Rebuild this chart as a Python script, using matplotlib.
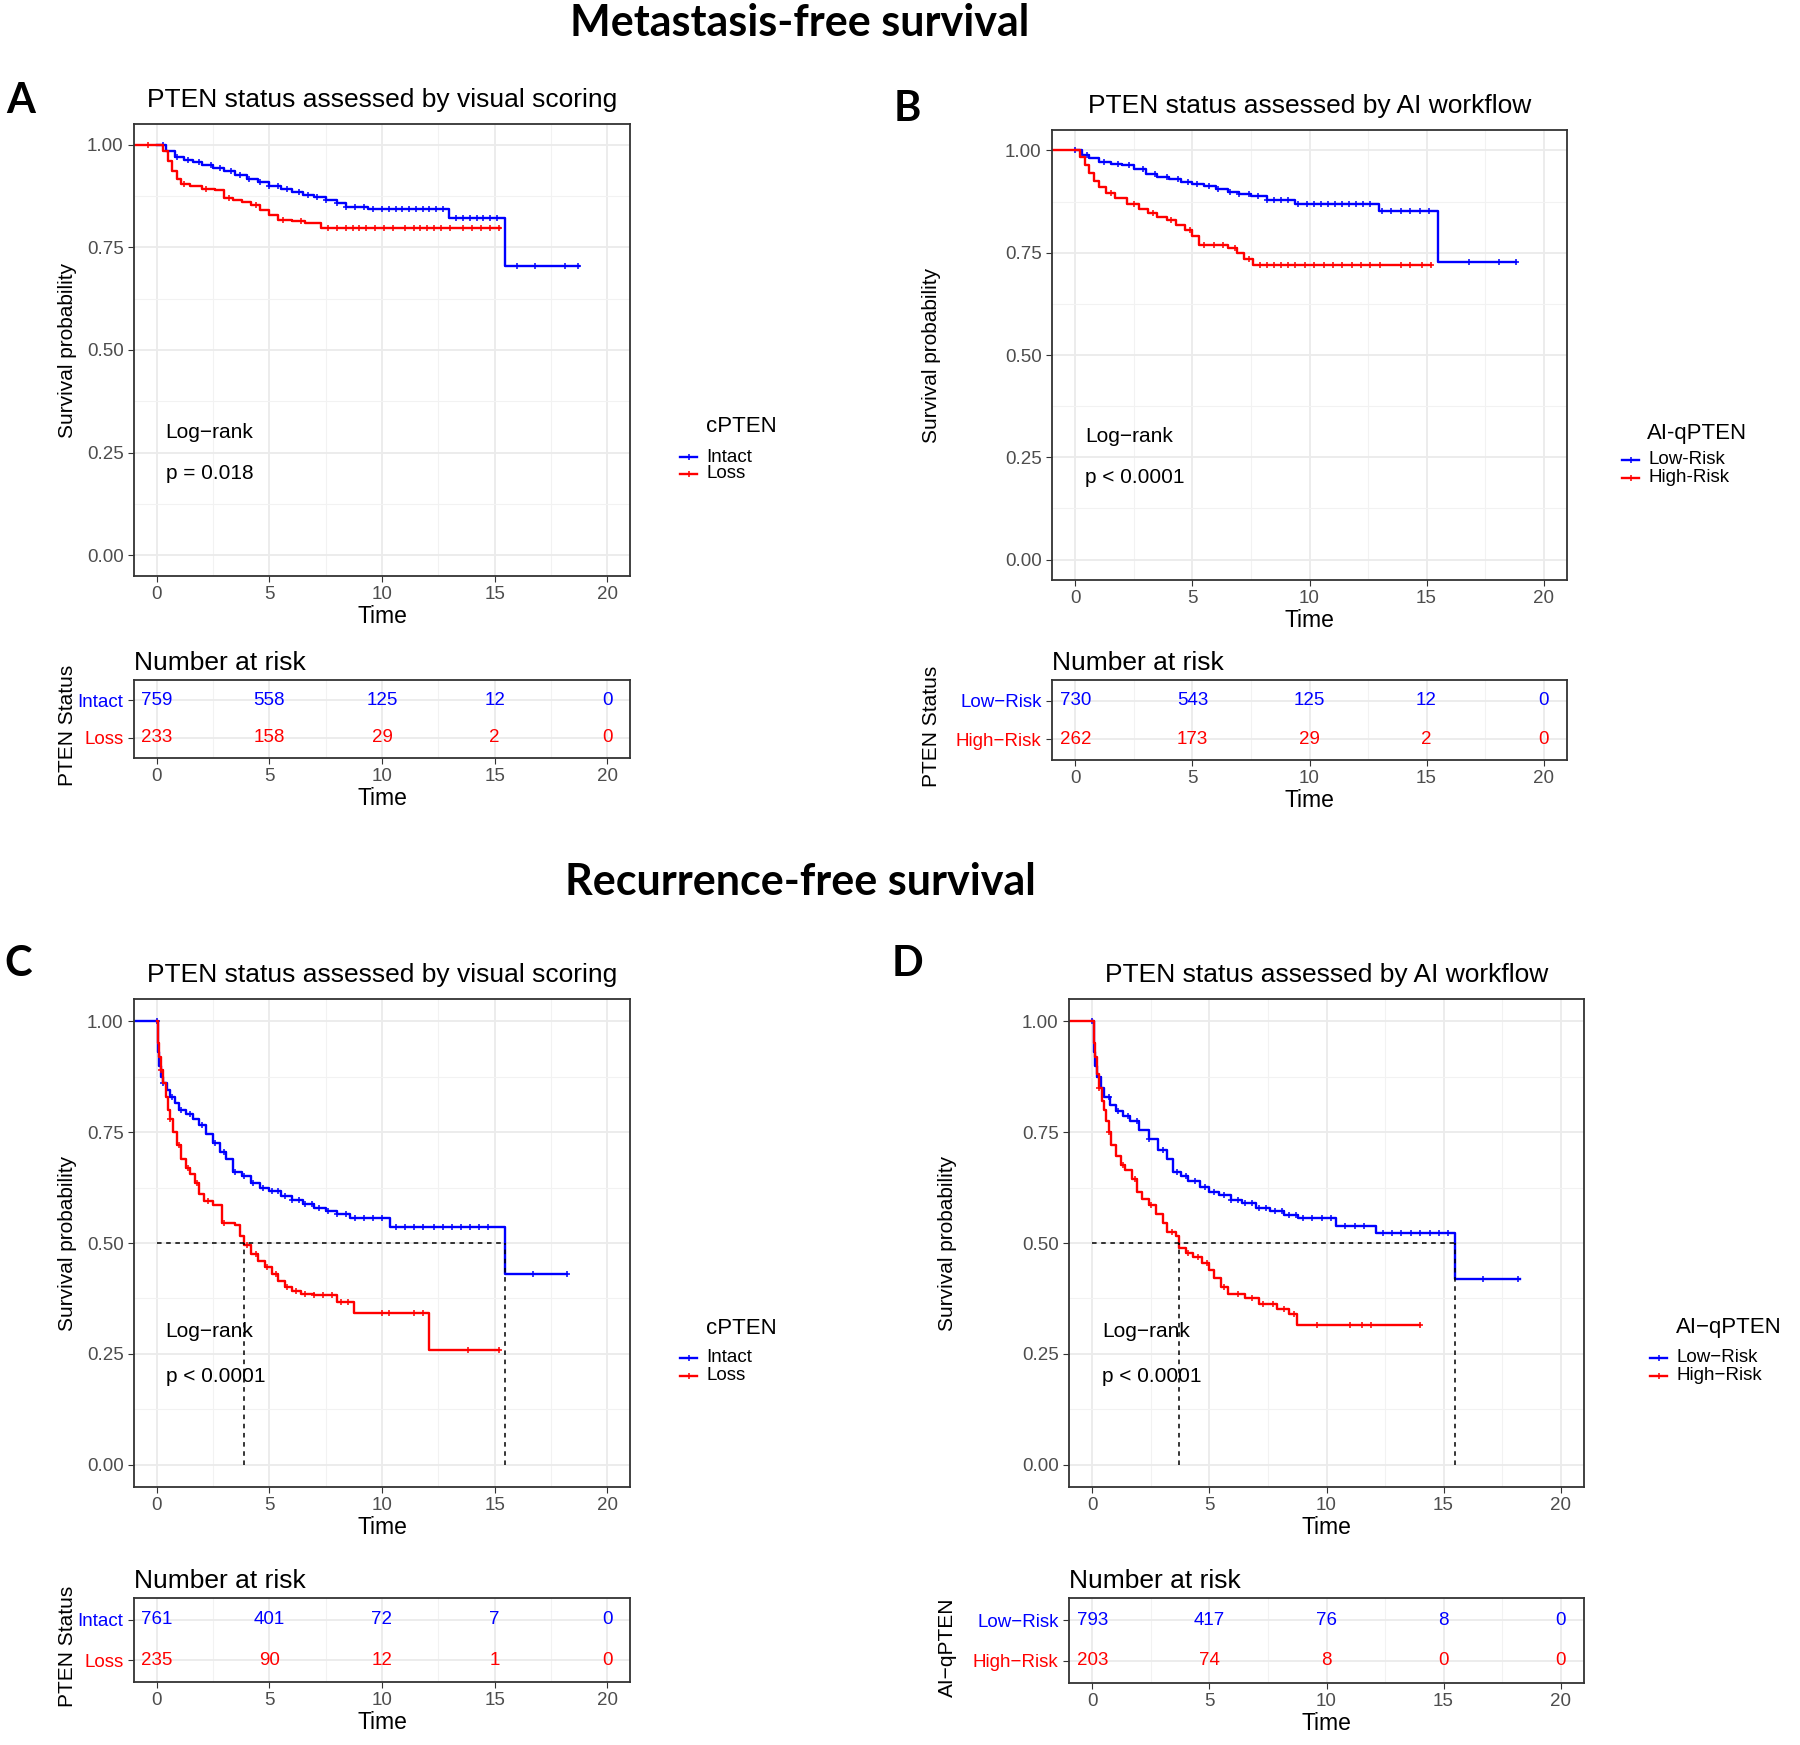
import numpy as np
import matplotlib
matplotlib.use("Agg")
from matplotlib import pyplot as plt
from matplotlib.lines import Line2D
from matplotlib.ticker import MultipleLocator

plt.rcParams['font.family'] = ['Liberation Sans', 'DejaVu Sans']

## Data
# A: metastasis-free, visual scoring
A_intact_t = [0, 0.4, 0.8, 1.2, 1.6, 2.0, 2.5, 3.0, 3.5, 4.0, 4.5, 5.0, 5.5, 6.0, 6.5, 7.0, 7.5, 8.0, 8.4, 9.4, 12.95, 15.45, 18.75]
A_intact_s = [1.0, 0.985, 0.970, 0.963, 0.957, 0.950, 0.942, 0.935, 0.925, 0.916, 0.908, 0.900, 0.893, 0.885, 0.878, 0.872, 0.866, 0.858, 0.848, 0.843, 0.822, 0.704, 0.704]
A_intact_cens = [0.3, 0.9, 1.4, 1.9, 2.4, 2.8, 3.3, 3.7, 4.1, 4.6, 5.0, 5.4, 5.8, 6.3, 6.7, 7.1, 7.5, 8.0, 8.4, 8.8, 9.2, 9.6, 10.0, 10.3, 10.6, 10.9, 11.2, 11.5, 11.8, 12.1, 12.4, 12.7, 13.3, 13.6, 13.9, 14.2, 14.5, 14.8, 15.1, 16.0, 16.8, 18.1, 18.7]
A_loss_t = [-1.0, 0.3, 0.5, 0.7, 0.9, 1.1, 1.5, 2.0, 2.6, 3.0, 3.4, 3.8, 4.2, 4.6, 5.0, 5.4, 6.0, 6.6, 7.3, 15.25]
A_loss_s = [1.0, 0.985, 0.960, 0.935, 0.915, 0.905, 0.900, 0.893, 0.889, 0.870, 0.865, 0.860, 0.852, 0.840, 0.828, 0.816, 0.814, 0.810, 0.796, 0.796]
A_loss_cens = [-0.4, 1.2, 2.2, 3.2, 4.4, 5.6, 6.4, 7.6, 8.0, 8.4, 8.7, 9.0, 9.3, 9.7, 10.1, 10.5, 11.0, 11.4, 11.7, 12.0, 12.3, 12.6, 13.0, 13.6, 14.0, 14.4, 14.8, 15.2]
A_risk_intact = [759, 558, 125, 12, 0]
A_risk_loss = [233, 158, 29, 2, 0]

# B: metastasis-free, AI workflow
B_low_t = [0, 0.3, 0.6, 1.0, 1.5, 2.0, 2.5, 3.0, 3.5, 4.0, 4.5, 5.0, 5.5, 6.0, 6.5, 7.0, 7.5, 8.2, 9.4, 12.95, 15.5, 18.8]
B_low_s = [1.0, 0.990, 0.982, 0.972, 0.968, 0.964, 0.955, 0.943, 0.936, 0.930, 0.924, 0.918, 0.912, 0.905, 0.899, 0.894, 0.889, 0.878, 0.870, 0.852, 0.728, 0.728]
B_low_cens = [0.0, 0.5, 1.2, 1.8, 2.3, 2.9, 3.4, 3.9, 4.4, 4.8, 5.2, 5.7, 6.1, 6.6, 7.0, 7.4, 7.8, 8.2, 8.5, 8.8, 9.1, 9.5, 9.9, 10.2, 10.5, 10.8, 11.1, 11.4, 11.7, 12.0, 12.3, 12.6, 13.1, 13.5, 13.9, 14.3, 14.7, 15.1, 16.8, 18.1, 18.8]
B_high_t = [-1.0, 0.2, 0.4, 0.6, 0.8, 1.0, 1.3, 1.7, 2.2, 2.7, 3.1, 3.5, 3.9, 4.3, 4.7, 5.0, 5.3, 6.5, 6.9, 7.2, 7.6, 15.2]
B_high_s = [1.0, 0.985, 0.965, 0.945, 0.925, 0.910, 0.897, 0.885, 0.870, 0.858, 0.846, 0.838, 0.830, 0.818, 0.806, 0.790, 0.770, 0.762, 0.750, 0.735, 0.720, 0.720]
B_high_cens = [1.5, 2.5, 3.3, 4.1, 4.9, 5.5, 5.9, 6.3, 6.8, 7.4, 7.9, 8.2, 8.5, 8.8, 9.1, 9.4, 9.8, 10.2, 10.6, 11.0, 11.4, 11.8, 12.2, 12.6, 13.0, 13.9, 14.3, 14.8, 15.2]
B_risk_low = [730, 543, 125, 12, 0]
B_risk_high = [262, 173, 29, 2, 0]

# C: recurrence-free, visual scoring
C_intact_t = [-1.0, 0.05, 0.1, 0.2, 0.3, 0.45, 0.6, 0.8, 1.0, 1.3, 1.6, 1.9, 2.2, 2.5, 2.8, 3.1, 3.4, 3.8, 4.2, 4.6, 5.0, 5.5, 6.0, 6.5, 7.0, 7.5, 8.0, 8.6, 10.35, 15.45, 18.2]
C_intact_s = [1.0, 0.93, 0.90, 0.875, 0.86, 0.845, 0.83, 0.815, 0.80, 0.79, 0.78, 0.765, 0.745, 0.725, 0.705, 0.69, 0.66, 0.65, 0.635, 0.625, 0.617, 0.607, 0.598, 0.588, 0.580, 0.572, 0.565, 0.556, 0.537, 0.431, 0.431]
C_intact_cens = [0.0, 0.3, 0.7, 1.1, 1.5, 2.0, 2.6, 3.0, 3.5, 3.9, 4.3, 4.7, 5.1, 5.4, 5.7, 6.0, 6.3, 6.6, 6.9, 7.2, 7.6, 8.0, 8.4, 8.8, 9.2, 9.6, 10.0, 10.6, 11.0, 11.4, 11.8, 12.3, 12.7, 13.1, 13.5, 13.9, 14.3, 14.7, 16.7, 18.2]
C_loss_t = [0, 0.05, 0.1, 0.2, 0.3, 0.4, 0.5, 0.6, 0.75, 0.9, 1.1, 1.3, 1.5, 1.7, 1.9, 2.1, 2.5, 2.9, 3.5, 3.7, 3.9, 4.2, 4.5, 4.8, 5.1, 5.4, 5.7, 6.0, 6.4, 7.0, 8.0, 8.75, 12.1, 15.2]
C_loss_s = [1.0, 0.95, 0.92, 0.89, 0.86, 0.83, 0.80, 0.78, 0.75, 0.72, 0.69, 0.67, 0.655, 0.635, 0.61, 0.595, 0.585, 0.545, 0.54, 0.515, 0.495, 0.475, 0.46, 0.447, 0.43, 0.415, 0.40, 0.392, 0.385, 0.382, 0.366, 0.343, 0.258, 0.258]
C_loss_cens = [0.2, 0.6, 1.0, 1.4, 1.8, 2.3, 3.0, 4.0, 4.4, 4.9, 5.3, 5.8, 6.2, 6.6, 7.0, 7.4, 7.8, 8.2, 8.5, 10.0, 10.3, 11.4, 11.8, 13.8, 15.2]
C_risk_intact = [761, 401, 72, 7, 0]
C_risk_loss = [235, 90, 12, 1, 0]
C_median = [3.9, 15.45]

# D: recurrence-free, AI workflow
D_low_t = [0, 0.05, 0.1, 0.2, 0.35, 0.5, 0.75, 1.0, 1.3, 1.6, 2.0, 2.4, 2.8, 3.2, 3.45, 3.8, 4.1, 4.6, 5.0, 5.4, 5.9, 6.4, 7.0, 7.6, 8.2, 8.8, 10.4, 12.1, 15.5, 18.25]
D_low_s = [1.0, 0.93, 0.90, 0.875, 0.85, 0.83, 0.81, 0.798, 0.786, 0.774, 0.755, 0.735, 0.71, 0.69, 0.66, 0.65, 0.64, 0.627, 0.615, 0.608, 0.598, 0.59, 0.58, 0.572, 0.564, 0.556, 0.538, 0.522, 0.418, 0.418]
D_low_cens = [0.0, 0.3, 0.7, 1.1, 1.5, 1.9, 2.4, 3.0, 3.6, 4.0, 4.4, 4.8, 5.2, 5.6, 5.9, 6.2, 6.5, 6.8, 7.1, 7.4, 7.8, 8.1, 8.4, 8.7, 9.0, 9.4, 9.8, 10.2, 10.8, 11.2, 11.6, 12.4, 12.8, 13.2, 13.6, 14.0, 14.4, 14.8, 15.2, 16.7, 18.2]
D_high_t = [-1.0, 0.05, 0.1, 0.2, 0.3, 0.4, 0.5, 0.6, 0.7, 0.8, 1.0, 1.2, 1.4, 1.7, 1.9, 2.1, 2.4, 2.7, 3.0, 3.2, 3.55, 3.72, 4.0, 4.3, 4.7, 5.0, 5.2, 5.5, 5.8, 6.5, 7.1, 7.9, 8.4, 8.75, 14.0]
D_high_s = [1.0, 0.95, 0.92, 0.88, 0.85, 0.82, 0.80, 0.775, 0.75, 0.72, 0.695, 0.675, 0.665, 0.645, 0.615, 0.60, 0.585, 0.565, 0.545, 0.525, 0.515, 0.488, 0.478, 0.468, 0.455, 0.44, 0.42, 0.40, 0.386, 0.375, 0.362, 0.352, 0.340, 0.316, 0.316]
D_high_cens = [0.3, 0.7, 1.3, 1.8, 2.5, 3.4, 4.1, 4.5, 4.9, 5.6, 6.2, 6.8, 7.3, 7.7, 8.2, 8.6, 9.6, 11.0, 11.5, 11.9, 14.0]
D_risk_low = [793, 417, 76, 8, 0]
D_risk_high = [203, 74, 8, 0, 0]
D_median = [3.72, 15.5]

risk_times = [0, 5, 10, 15, 20]
BLUE = '#0000FF'
RED = '#FF0000'
GREY = '#4D4D4D'

W, H = 1800, 1745
fig = plt.figure(figsize=(W / 100, H / 100), dpi=100)


def px_axes(l, t, r, b):
    return fig.add_axes([l / W, 1 - b / H, (r - l) / W, (b - t) / H])


def px_text(x, y, s, **kw):
    fig.text(x / W, 1 - y / H, s, **kw)


def style_axes(ax):
    ax.set_xlim(-1, 21)
    ax.xaxis.set_major_locator(MultipleLocator(5))
    ax.xaxis.set_minor_locator(MultipleLocator(2.5))
    ax.grid(which='major', color='#EBEBEB', lw=1.3)
    ax.grid(which='minor', color='#F2F2F2', lw=0.8)
    ax.set_axisbelow(True)
    for sp in ax.spines.values():
        sp.set_color('#333333')
        sp.set_linewidth(1.3)
    ax.tick_params(which='major', length=4, color='#333333', labelsize=13.5, labelcolor=GREY)
    ax.tick_params(which='minor', length=0)


def km(ax, t, s, cens, color):
    t = np.asarray(t)
    s = np.asarray(s)
    ax.step(t, s, where='post', color=color, lw=1.7)
    idx = np.searchsorted(t, cens, side='right') - 1
    ax.plot(cens, s[np.clip(idx, 0, None)], '+', color=color, ms=5, mew=1.1)


def km_panel(rect, title, curves, pval, ylab_x, median=None):
    ax = px_axes(*rect)
    style_axes(ax)
    ax.set_ylim(-0.05, 1.05)
    ax.yaxis.set_minor_locator(MultipleLocator(0.125))
    ax.set_yticks([0, 0.25, 0.5, 0.75, 1.0])
    ax.set_yticklabels(['0.00', '0.25', '0.50', '0.75', '1.00'])
    for t, s, c, col in curves:
        km(ax, t, s, c, col)
    if median is not None:
        ax.plot([0, median[1]], [0.5, 0.5], ls=(0, (3, 3)), color='black', lw=1.1)
        for m in median:
            ax.plot([m, m], [0, 0.5], ls=(0, (3, 3)), color='black', lw=1.1)
    ax.text(0.4, 0.30, 'Log\u2212rank', fontsize=15, va='center')
    ax.text(0.4, 0.20, pval, fontsize=15, va='center')
    ax.set_xlabel('Time', fontsize=16.5, labelpad=1)
    ax.set_ylabel('Survival probability', fontsize=15)
    ax.yaxis.set_label_coords(ylab_x, 0.5)
    cx = (rect[0] + rect[2]) / 2
    px_text(cx, rect[1] - 24, title, fontsize=19, ha='center', va='center')
    return ax


def risk_table(rect, labels, rows, ylabel, ylab_x):
    ax = px_axes(*rect)
    style_axes(ax)
    ax.set_ylim(0.46, 2.54)
    ax.set_yticks([2, 1])
    ax.set_yticklabels(labels, fontsize=13.5)
    for lab, (_, col) in zip(ax.get_yticklabels(), rows):
        lab.set_color(col)
    for y, (vals, col) in zip([2, 1], rows):
        for x, v in zip(risk_times, vals):
            ax.text(x, y, str(v), color=col, fontsize=13.5, ha='center', va='center')
    ax.set_xlabel('Time', fontsize=16.5, labelpad=1)
    ax.set_ylabel(ylabel, fontsize=15)
    ax.yaxis.set_label_coords(ylab_x, 0.42)
    ax.set_title('Number at risk', loc='left', fontsize=19, pad=7)
    return ax


def legend(kx, tx, ty, title, labels, ey):
    # manual legend: title aligned with the entry text, keys to the left
    px_text(tx, ty, title, fontsize=16, va='center', ha='left')
    for lab, col, y in zip(labels, [BLUE, RED], ey):
        fy = 1 - y / H
        fig.add_artist(Line2D([kx / W, (kx + 17) / W], [fy, fy], color=col, lw=1.7,
                              transform=fig.transFigure))
        fig.add_artist(Line2D([(kx + 8.5) / W], [fy], color=col, marker='+', ms=5,
                              mew=1.1, transform=fig.transFigure))
        px_text(kx + 26, y, lab, fontsize=13.5, va='center', ha='left')


# Section headings and panel letters
px_text(800, 23, 'Metastasis-free survival', fontsize=31, fontweight='bold',
        ha='center', va='center', family=['Lato', 'DejaVu Sans'])
px_text(800, 882, 'Recurrence-free survival', fontsize=31, fontweight='bold',
        ha='center', va='center', family=['Lato', 'DejaVu Sans'])
for letter, x, y in [('A', 21, 101), ('B', 907, 109), ('C', 18, 964), ('D', 907, 964)]:
    px_text(x, y, letter, fontsize=30, fontweight='bold', ha='center', va='center',
            family=['Lato', 'DejaVu Sans'])

# A
km_panel((134, 124, 630, 576), 'PTEN status assessed by visual scoring',
         [(A_intact_t, A_intact_s, A_intact_cens, BLUE), (A_loss_t, A_loss_s, A_loss_cens, RED)],
         'p = 0.018', -0.115)
legend(680, 706, 427, 'cPTEN', ['Intact', 'Loss'], [457, 474])
risk_table((134, 680, 630, 758), ['Intact', 'Loss'],
           [(A_risk_intact, BLUE), (A_risk_loss, RED)], 'PTEN Status', -0.115)

# B
km_panel((1052, 130, 1567, 580), 'PTEN status assessed by AI workflow',
         [(B_low_t, B_low_s, B_low_cens, BLUE), (B_high_t, B_high_s, B_high_cens, RED)],
         'p < 0.0001', -0.215)
legend(1622, 1647, 434, 'AI-qPTEN', ['Low-Risk', 'High-Risk'], [460, 478])
risk_table((1052, 680, 1567, 760), ['Low\u2212Risk', 'High\u2212Risk'],
           [(B_risk_low, BLUE), (B_risk_high, RED)], 'PTEN Status', -0.215)

# C
km_panel((134, 999, 630, 1487), 'PTEN status assessed by visual scoring',
         [(C_intact_t, C_intact_s, C_intact_cens, BLUE), (C_loss_t, C_loss_s, C_loss_cens, RED)],
         'p < 0.0001', -0.115, median=C_median)
legend(680, 706, 1328, 'cPTEN', ['Intact', 'Loss'], [1358, 1376])
risk_table((134, 1598, 630, 1682), ['Intact', 'Loss'],
           [(C_risk_intact, BLUE), (C_risk_loss, RED)], 'PTEN Status', -0.115)

# D
km_panel((1069, 999, 1584, 1487), 'PTEN status assessed by AI workflow',
         [(D_low_t, D_low_s, D_low_cens, BLUE), (D_high_t, D_high_s, D_high_cens, RED)],
         'p < 0.0001', -0.217, median=D_median)
legend(1650, 1676, 1328, 'AI\u2212qPTEN', ['Low\u2212Risk', 'High\u2212Risk'], [1358, 1376])
risk_table((1069, 1598, 1584, 1683), ['Low\u2212Risk', 'High\u2212Risk'],
           [(D_risk_low, BLUE), (D_risk_high, RED)], 'AI\u2212qPTEN', -0.217)

fig.savefig('out.png', dpi=100, facecolor='white')
